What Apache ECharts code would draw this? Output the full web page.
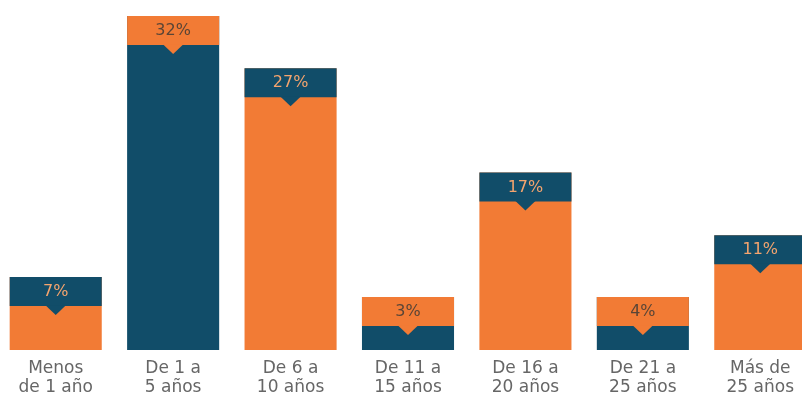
<!DOCTYPE html>
<html>
<head>
<meta charset="utf-8">
<style>html,body{margin:0;padding:0;background:#fff;}#c{width:802px;height:394px;}</style>
<script src="https://cdn.jsdelivr.net/npm/echarts@6/dist/echarts.min.js"></script>
</head>
<body>
<div id="c"></div>
<script>
var categories = ['Menos\nde 1 año', 'De 1 a\n5 años', 'De 6 a\n10 años', 'De 11 a\n15 años', 'De 16 a\n20 años', 'De 21 a\n25 años', 'Más de\n25 años'];
var values = [7, 32, 27, 3, 17, 4, 11];

var ORANGE = '#f27b35';
var BLUE = '#114d69';
var BOXH = 29;
var MINH = 53;

var chart = echarts.init(document.getElementById('c'));
chart.setOption({
  animation: false,
  grid: { left: -3, right: -17, top: 16, bottom: 44, containLabel: false, outerBoundsMode: 'none' },
  xAxis: {
    type: 'category',
    data: categories,
    axisLine: { show: false },
    axisTick: { show: false },
    axisLabel: {
      interval: 0,
      margin: 9,
      color: '#666666',
      fontFamily: 'DejaVu Sans',
      fontSize: 17,
      lineHeight: 19
    }
  },
  yAxis: { type: 'value', min: 0, max: 32, show: false, splitLine: { show: false } },
  series: [{
    type: 'custom',
    data: values.map(function (v, i) { return [i, v]; }),
    encode: { x: 0, y: 1 },
    renderItem: function (params, api) {
      var i = api.value(0), v = api.value(1);
      var base = api.coord([i, 0]);
      var top = api.coord([i, v]);
      var w = api.size([1, 0])[0] * 0.784;
      var h = Math.max(base[1] - top[1], MINH);
      var cx = base[0];
      var x = cx - w / 2, y = base[1] - h;
      var even = i % 2 === 0;
      var barColor = even ? ORANGE : BLUE;
      var boxColor = even ? BLUE : ORANGE;
      var textColor = even ? '#f4a46e' : '#5a4536';
      return {
        type: 'group',
        children: [
          { type: 'rect', shape: { x: x, y: y, width: w, height: h }, style: { fill: barColor } },
          { type: 'rect', shape: { x: x, y: y, width: w, height: BOXH }, style: { fill: boxColor } },
          { type: 'polygon', shape: { points: [[cx - 10, y + BOXH - 0.5], [cx + 10, y + BOXH - 0.5], [cx, y + BOXH + 9]] }, style: { fill: boxColor } },
          { type: 'text', style: { text: v + '%', x: cx, y: y + BOXH / 2 + 0.5, align: 'center', verticalAlign: 'middle', fill: textColor, fontFamily: 'DejaVu Sans', fontSize: 16 } }
        ]
      };
    }
  }]
});
</script>
</body>
</html>
